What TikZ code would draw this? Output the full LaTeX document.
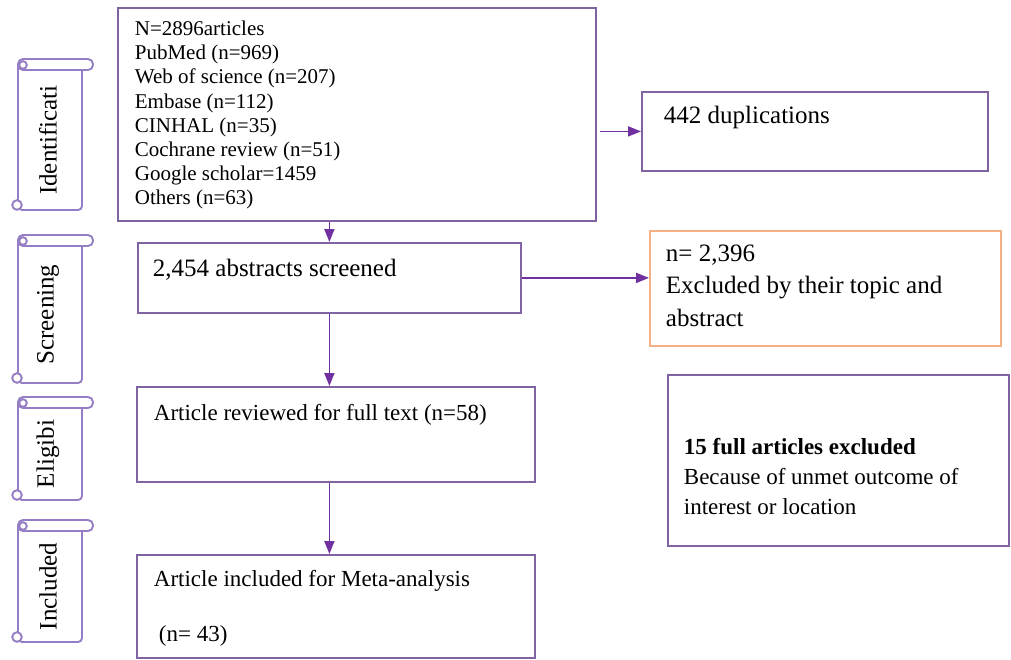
\documentclass[tikz,border=0pt]{standalone}
\usepackage{fontspec}
\setmainfont{Liberation Serif}
\usepackage{tikz}
\usetikzlibrary{arrows.meta}
\definecolor{boxline}{RGB}{128,100,162}
\definecolor{arrowline}{RGB}{112,48,160}
\definecolor{scrolline}{RGB}{150,126,196}
\definecolor{orangeline}{RGB}{244,177,131}

\begin{document}
\begin{tikzpicture}[x=1pt,y=-1pt,->,>={Triangle[length=13pt,width=10pt]},
                    line width=1.8pt]
  \tikzstyle{box}=[draw=boxline,anchor=north west,inner sep=0pt,
                   font=\fontsize{25}{32.5}\selectfont]
  \tikzstyle{flow}=[draw=arrowline]
  \tikzstyle{scroll}=[-,draw=scrolline,fill=white,line width=1.9pt]
  \tikzstyle{stage}=[rotate=90,font=\fontsize{25}{30}\selectfont]

  \useasboundingbox (0,0) rectangle (1011,659);

  % stage scrolls on the left
  \foreach \ya/\yb/\lbl [count=\i] in {59/210/Identificati,235/383/Screening,
                                       397/500/Eligibi,520/642/Included} {
    \draw[scroll,rounded corners=4pt] (82,\ya+6) -- (82,\yb) -- (18,\yb) -- (18,\ya+6);
    \draw[scroll,rounded corners=5pt] (18,\ya) rectangle (93,\ya+11);
    \draw[scroll] (23,\ya+6) circle (3.8);
    \draw[scroll] (17,\yb-5) circle (4.8);
    \node[stage] (stage\i) at (48,{(\ya+\yb+11)/2}) {\lbl};
  }

  \node[box,inner xsep=17pt,inner ysep=13pt] (sources) at (117,7)
    {\parbox[c][187pt][t]{444pt}{\raggedright\fontsize{21}{24.2}\selectfont
     N=2896articles\\ PubMed (n=969)\\ Web of science (n=207)\\ Embase (n=112)\\
     CINHAL (n=35)\\ Cochrane review (n=51)\\ Google scholar=1459\\ Others (n=63)}};
  \node[box,inner xsep=22pt,inner ysep=14pt] (dup) at (641,91)
    {\parbox[c][51pt][t]{302pt}{\raggedright 442 duplications}};
  \node[box,inner xsep=15pt,inner ysep=16pt] (screen) at (137,242)
    {\parbox[c][38pt][t]{353pt}{\raggedright 2,454 abstracts screened}};
  \node[box,draw=orangeline,inner xsep=16pt,inner ysep=14pt] (excl) at (649,230)
    {\parbox[c][87pt][t]{319pt}{\raggedright n= 2,396\\ Excluded by their topic and\\ abstract}};
  \node[box,inner xsep=17pt,inner ysep=17pt] (full) at (136,386)
    {\parbox[c][61pt][t]{364pt}{\raggedright\fontsize{23}{27}\selectfont
     Article reviewed for full text (n=58)}};
  \node[box,inner xsep=17pt,inner ysep=15pt] (incl) at (136,554)
    {\parbox[c][73pt][t]{364pt}{\raggedright\fontsize{23}{27}\selectfont
     Article included for Meta-analysis\\[28pt] \hspace*{5pt}(n= 43)}};
  \node[box,inner xsep=16pt,inner ysep=12pt] (notes) at (667,374)
    {\parbox[c][147pt][t]{309pt}{\raggedright\fontsize{23}{30}\selectfont
     \vspace*{51pt}\textbf{15 full articles excluded}\\ Because of unmet outcome of\\
     interest or location}};

  \draw[flow] (sources.south -| screen.north) -- (screen.north);
  \draw[flow,shorten <=3pt] (sources.east |- dup.west) -- (dup.west);
  \draw[flow] (screen.east) -- (screen.east -| excl.west);
  \draw[flow] (screen.south) -- (screen.south |- full.north);
  \draw[flow] (full.south -| screen.south) -- (incl.north -| screen.south);
\end{tikzpicture}
\end{document}
